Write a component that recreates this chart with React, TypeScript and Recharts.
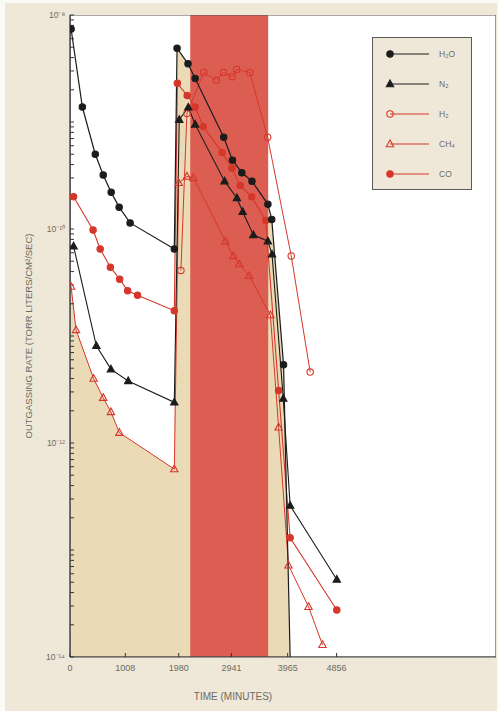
import React from "react";
import { ComposedChart, Line, Area, XAxis, YAxis, ReferenceArea, Legend } from "recharts";

// time in minutes, rate in torr liters/cm2/sec
const TIME_TICKS = [0, 1008, 1980, 2941, 3965, 4856];
const RATE_MAJOR = [1e-14, 1e-12, 1e-10, 1e-8];
const RATE_MAJOR_TEXT = ["10⁻¹⁴", "10⁻¹²", "10⁻¹⁰", "10⁻⁸"];
const RATE_MANTISSAS = [1, 2, 3, 4, 5, 6, 7, 8, 9];
const RATE_DECADES = [-14, -13, -12, -11, -10, -9];

const BAKE_START = 2190;
const BAKE_END = 3610;

const H2O_TIME = [20, 225, 460, 605, 750, 895, 1095, 1900, 1950, 2150, 2280, 2800, 2960, 3130, 3315, 3605, 3675, 3890, 4010];
const H2O_RATE = [7.4e-9, 1.38e-9, 5.0e-10, 3.2e-10, 2.2e-10, 1.6e-10, 1.14e-10, 6.5e-11, 4.9e-9, 3.5e-9, 2.55e-9, 7.2e-10, 4.4e-10, 3.35e-10, 2.8e-10, 1.7e-10, 1.23e-10, 5.4e-12, 1e-14];

const N2_TIME = [65, 480, 745, 1060, 1900, 1990, 2155, 2280, 2815, 3040, 3145, 3340, 3605, 3680, 3885, 4010, 4860];
const N2_RATE = [6.9e-11, 8.1e-12, 4.9e-12, 3.8e-12, 2.4e-12, 1.05e-9, 1.37e-9, 9.5e-10, 2.8e-10, 1.95e-10, 1.45e-10, 8.8e-11, 7.7e-11, 5.8e-11, 2.6e-12, 2.6e-13, 5.3e-14];

const H2_TIME = [2020, 2130, 2435, 2665, 2795, 2955, 3035, 3275, 3600, 4030, 4375];
const H2_RATE = [4.1e-11, 1.2e-9, 2.9e-9, 2.45e-9, 2.9e-9, 2.65e-9, 3.1e-9, 2.9e-9, 7.2e-10, 5.6e-11, 4.6e-12];

const CH4_TIME = [20, 110, 430, 605, 745, 900, 1900, 1980, 2130, 2250, 2830, 2975, 3085, 3265, 3650, 3800, 3980, 4345, 4600];
const CH4_RATE = [2.9e-11, 1.14e-11, 4.0e-12, 2.65e-12, 1.95e-12, 1.25e-12, 5.7e-13, 2.7e-10, 3.1e-10, 3.0e-10, 7.7e-11, 5.6e-11, 4.7e-11, 3.65e-11, 1.57e-11, 1.4e-12, 7.2e-14, 2.95e-14, 1.3e-14];

const CO_TIME = [65, 420, 550, 735, 905, 1050, 1230, 1900, 1955, 2135, 2280, 2425, 2770, 2950, 3100, 3310, 3565, 3800, 4010, 4860];
const CO_RATE = [2.0e-10, 9.8e-11, 6.5e-11, 4.4e-11, 3.4e-11, 2.65e-11, 2.4e-11, 1.72e-11, 2.3e-9, 1.77e-9, 1.38e-9, 9.1e-10, 5.2e-10, 3.7e-10, 2.55e-10, 2.0e-10, 1.2e-10, 3.1e-12, 1.3e-13, 2.75e-14];

const FLOOR = 1e-14;
const BLACK = "#1c1c1c";
const RED = "#d6372b";
const TEXT = "#6e6a62";
const FONT = "'Liberation Sans', Arial, sans-serif";

const zip = (t: number[], v: number[]) => t.map((time, i) => ({ time, rate: v[i] }));

const h2o = zip(H2O_TIME, H2O_RATE);
const n2 = zip(N2_TIME, N2_RATE);
const h2 = zip(H2_TIME, H2_RATE);
const ch4 = zip(CH4_TIME, CH4_RATE);
const co = zip(CO_TIME, CO_RATE);
// tan shading: under CH4 before the restart, under H2O after it
const shade = [...ch4.slice(0, 7), ...h2o.slice(8)];

const rateTicks: number[] = [];
RATE_DECADES.forEach((d) => RATE_MANTISSAS.forEach((m) => rateTicks.push(m * Math.pow(10, d))));
rateTicks.push(1e-8);

const circleDot = (color: string, filled: boolean) => (p: any) => {
  const { cx, cy, payload, index } = p;
  if (cx == null || cy == null || payload.rate <= FLOOR) return <g key={index} />;
  return <circle key={index} cx={cx} cy={cy} r={3.2} fill={filled ? color : "none"} stroke={color} strokeWidth={1.1} />;
};

const triDot = (color: string, filled: boolean) => (p: any) => {
  const { cx, cy, payload, index } = p;
  if (cx == null || cy == null || payload.rate <= FLOOR) return <g key={index} />;
  return (
    <polygon
      key={index}
      points={`${cx},${cy - 4} ${cx - 3.7},${cy + 2.7} ${cx + 3.7},${cy + 2.7}`}
      fill={filled ? color : "none"}
      stroke={color}
      strokeWidth={1.1}
    />
  );
};

const SERIES = [
  { name: "H₂O", color: BLACK, shape: "circle", filled: true },
  { name: "N₂", color: BLACK, shape: "tri", filled: true },
  { name: "H₂", color: RED, shape: "circle", filled: false },
  { name: "CH₄", color: RED, shape: "tri", filled: false },
  { name: "CO", color: RED, shape: "circle", filled: true },
];

const LegendBox = () => (
  <svg width={100} height={153} style={{ display: "block" }}>
    <rect x={0.5} y={0.5} width={99} height={152} fill="#efe8d8" stroke="#5a5a5a" strokeWidth={1} />
    {SERIES.map((s, i) => {
      const y = 17 + i * 30;
      return (
        <g key={s.name}>
          <line x1={18} x2={57} y1={y} y2={y} stroke={s.color} strokeWidth={1.2} />
          {s.shape === "circle"
            ? circleDot(s.color, s.filled)({ cx: 18, cy: y, payload: { rate: 1 }, index: i })
            : triDot(s.color, s.filled)({ cx: 18, cy: y, payload: { rate: 1 }, index: i })}
          <text x={67} y={y + 3} fontSize={8.5} fill={TEXT} fontFamily={FONT}>
            {s.name}
          </text>
        </g>
      );
    })}
  </svg>
);

const YTick = (p: any) => {
  const { x, y, payload } = p;
  const lg = Math.log10(payload.value);
  const k = RATE_MAJOR.findIndex((v) => Math.abs(Math.log10(v) - lg) < 1e-6);
  if (k < 0) return <g />;
  return (
    <text x={x - 1} y={y + 3} textAnchor="end" fontSize={8.5} fill={TEXT} fontFamily={FONT}>
      {RATE_MAJOR_TEXT[k]}
    </text>
  );
};

const XTick = (p: any) => {
  const { x, y, payload } = p;
  return (
    <text x={x} y={y + 14} textAnchor="middle" fontSize={9} fill={TEXT} fontFamily={FONT}>
      {payload.value}
    </text>
  );
};

const YTitle = (p: any) => {
  const { x, y, height } = p.viewBox;
  const cx = x + 28;
  const cy = y + height / 2;
  return (
    <text x={cx} y={cy} transform={`rotate(-90 ${cx} ${cy})`} textAnchor="middle" dominantBaseline="central" fontSize={9.5} fill={TEXT} fontFamily={FONT}>
      OUTGASSING RATE (TORR LITERS/CM²/SEC)
    </text>
  );
};

const XTitle = (p: any) => {
  const { x, y } = p.viewBox;
  return (
    <text x={x + 163} y={y + 43} textAnchor="middle" fontSize={10} fill={TEXT} fontFamily={FONT}>
      TIME (MINUTES)
    </text>
  );
};

export default function App() {
  return (
    <div style={{ position: "absolute", left: 0, top: 0, width: 499, height: 711, background: "#fbfaf6" }}>
      <div style={{ position: "absolute", left: 5, top: 3, width: 492, height: 708, background: "#efe8d8" }} />
      {/* white plotting field behind the svg */}
      <div style={{ position: "absolute", left: 70, top: 15, width: 426, height: 642, background: "#ffffff" }} />
      <div style={{ position: "absolute", left: 0, top: 0 }}>
        <ComposedChart width={499} height={711} margin={{ top: 15, right: 3, left: 0, bottom: 0 }}>
          <Area data={shade} dataKey="rate" type="linear" baseValue="dataMin" stroke="none" fill="#eadab6" fillOpacity={1} dot={false} activeDot={false} isAnimationActive={false} />
          <ReferenceArea x1={BAKE_START} x2={BAKE_END} y1={1e-14} y2={1e-8} fill="#dc5e53" fillOpacity={1} stroke="none" />
          <Line data={co} dataKey="rate" stroke={RED} strokeWidth={1.1} dot={circleDot(RED, true)} activeDot={false} isAnimationActive={false} />
          <Line data={ch4} dataKey="rate" stroke={RED} strokeWidth={1} dot={triDot(RED, false)} activeDot={false} isAnimationActive={false} />
          <Line data={h2} dataKey="rate" stroke={RED} strokeWidth={1} dot={circleDot(RED, false)} activeDot={false} isAnimationActive={false} />
          <Line data={n2} dataKey="rate" stroke={BLACK} strokeWidth={1.1} dot={triDot(BLACK, true)} activeDot={false} isAnimationActive={false} />
          <Line data={h2o} dataKey="rate" stroke={BLACK} strokeWidth={1.2} dot={circleDot(BLACK, true)} activeDot={false} isAnimationActive={false} />
          <ReferenceArea y1={1e-14} y2={1e-8} fill="none" stroke="#555" strokeWidth={1.2} ifOverflow="hidden" />
          <XAxis
            dataKey="time"
            type="number"
            domain={[0, 7760]}
            ticks={TIME_TICKS}
            allowDataOverflow
            height={54}
            tickSize={-4}
            tickMargin={4}
            tickLine={{ stroke: "#333", strokeWidth: 1 }}
            tick={<XTick />}
            axisLine={{ stroke: "#444", strokeWidth: 1.2 }}
            label={<XTitle />}
          />
          <YAxis
            dataKey="rate"
            scale="log"
            type="number"
            domain={[1e-14, 1e-8]}
            ticks={rateTicks}
            allowDataOverflow
            interval={0}
            width={70}
            tickSize={-4}
            tickMargin={8}
            tickLine={{ stroke: "#333", strokeWidth: 1 }}
            tick={<YTick />}
            axisLine={{ stroke: "#444", strokeWidth: 1.4 }}
            label={<YTitle />}
          />
          <Legend
            layout="horizontal"
            verticalAlign="middle"
            content={<LegendBox />}
            wrapperStyle={{ position: "absolute", left: 372, top: 37, width: 100, height: 153 }}
          />
        </ComposedChart>
      </div>
    </div>
  );
}
